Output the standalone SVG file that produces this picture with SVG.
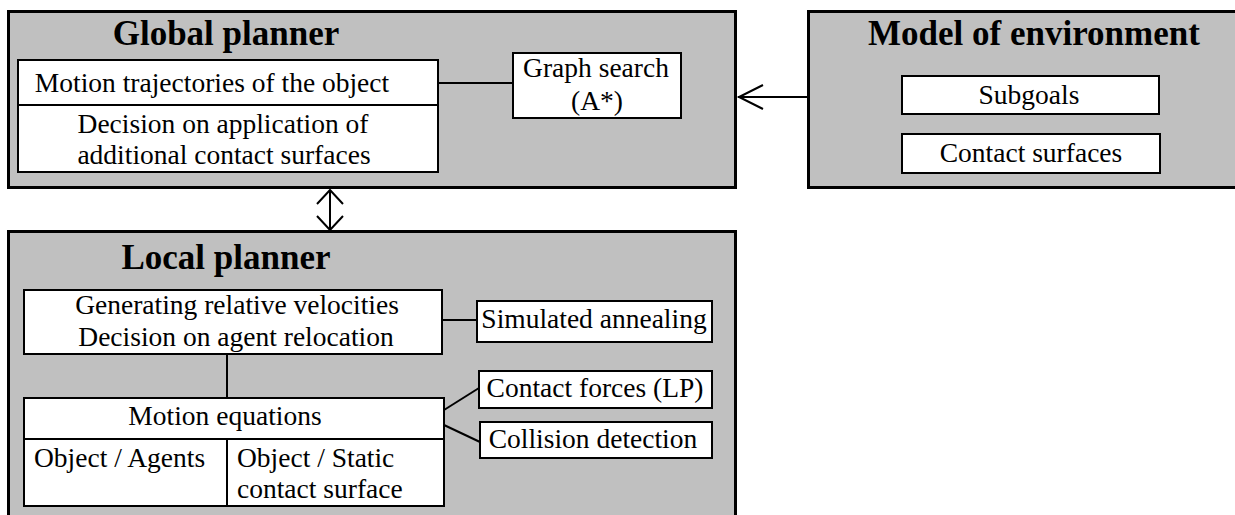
<svg xmlns="http://www.w3.org/2000/svg" width="1235" height="515" viewBox="0 0 1235 515">
<style>
.outer{fill:#c0c0c0;stroke:#000;stroke-width:3}
.inner{fill:#fff;stroke:#000;stroke-width:2}
.ln{stroke:#000;stroke-width:2;fill:none}
text{font-family:'Liberation Serif','Times New Roman',serif;fill:#000}
.t{font-size:27.5px}
.c{text-anchor:middle}
.h{font-size:35px;font-weight:bold;text-anchor:middle}
</style>
<rect width="1235" height="515" fill="#fff"/>
<g id="global-planner">
<rect class="outer" x="8.5" y="11.5" width="727" height="176"/>
<text class="h" x="226" y="45">Global planner</text>
<rect class="inner" x="18" y="60" width="420" height="112"/>
<line class="ln" x1="18" y1="105" x2="438" y2="105"/>
<text class="t c" x="212" y="92">Motion trajectories of the object</text>
<text class="t c" x="223" y="133">Decision on application of</text>
<text class="t c" x="224" y="164">additional contact surfaces</text>
</g>
<g id="graph-search">
<rect class="inner" x="513" y="53" width="168" height="65"/>
<text class="t c" x="596" y="77">Graph search</text>
<text class="t c" x="597" y="110">(A*)</text>
</g>
<g id="model-of-environment">
<rect class="outer" x="808.5" y="11.5" width="440" height="176"/>
<text class="h" x="1034" y="45">Model of environment</text>
<rect class="inner" x="902" y="76" width="257" height="38"/>
<text class="t c" x="1029" y="104">Subgoals</text>
<rect class="inner" x="902" y="134" width="258" height="39"/>
<text class="t c" x="1031" y="162">Contact surfaces</text>
</g>
<g id="local-planner">
<rect class="outer" x="8.5" y="231.5" width="727" height="290"/>
<text class="h" x="226" y="269">Local planner</text>
</g>
<g id="velocities">
<rect class="inner" x="24" y="290" width="418" height="64"/>
<text class="t c" x="237" y="314">Generating relative velocities</text>
<text class="t c" x="236" y="346">Decision on agent relocation</text>
</g>
<g id="motion-equations">
<rect class="inner" x="24" y="398" width="420" height="108"/>
<line class="ln" x1="24" y1="439" x2="444" y2="439"/>
<line class="ln" x1="227" y1="439" x2="227" y2="506"/>
<text class="t c" x="225" y="425">Motion equations</text>
<text class="t" x="34" y="467">Object / Agents</text>
<text class="t" x="237" y="467">Object / Static</text>
<text class="t" x="237" y="498">contact surface</text>
</g>
<g id="simulated-annealing">
<rect class="inner" x="477" y="301" width="235" height="41"/>
<text class="t c" x="594" y="328">Simulated annealing</text>
</g>
<g id="contact-forces">
<rect class="inner" x="479" y="371" width="233" height="37"/>
<text class="t c" x="595" y="397">Contact forces (LP)</text>
</g>
<g id="collision-detection">
<rect class="inner" x="480" y="422" width="232" height="36"/>
<text class="t c" x="593" y="448">Collision detection</text>
</g>
<g id="connectors">
<line class="ln" x1="438" y1="83" x2="513" y2="83"/>
<line class="ln" x1="808" y1="97" x2="738" y2="97"/>
<polyline class="ln" points="763,85 739,97 763,109" stroke-width="2.5"/>
<line class="ln" x1="330" y1="190" x2="330" y2="230"/>
<polyline class="ln" points="317,204 330,190 343,204"/>
<polyline class="ln" points="317,216 330,230 343,216"/>
<line class="ln" x1="442" y1="320" x2="477" y2="320"/>
<line class="ln" x1="227" y1="354" x2="227" y2="398"/>
<line class="ln" x1="444" y1="410" x2="479" y2="388"/>
<line class="ln" x1="444" y1="425" x2="480" y2="442"/>
</g>
</svg>
